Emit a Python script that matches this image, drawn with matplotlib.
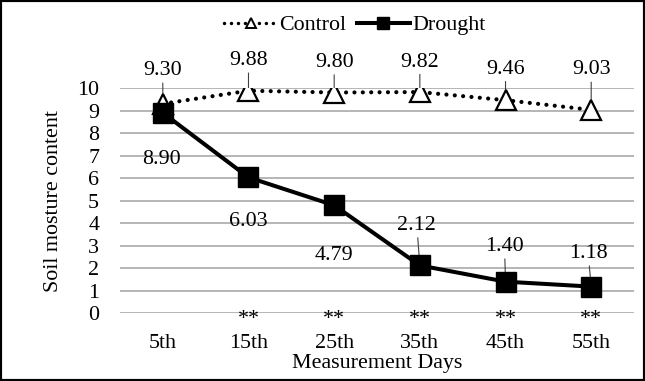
import matplotlib
matplotlib.use("Agg")
import matplotlib.pyplot as plt
from matplotlib.lines import Line2D
from matplotlib.patches import Rectangle

days = ["5th", "15th", "25th", "35th", "45th", "55th"]
control = [9.30, 9.88, 9.80, 9.82, 9.46, 9.03]
drought = [8.90, 6.03, 4.79, 2.12, 1.40, 1.18]
signif = ["", "**", "**", "**", "**", "**"]
yticks = [0, 1, 2, 3, 4, 5, 6, 7, 8, 9, 10]

# label offsets in pixels (dx, dy) and whether a leader line is drawn
ctrl_off = [(0, 33), (0, 30), (0, 30), (0, 30), (0, 31), (0, 40)]
drt_off = [(-1, -47), (0, -44), (0, -50), (-3, 40), (-1, 35), (-3, 33)]
drt_leader = [False, False, False, True, True, True]

plt.rcParams["font.family"] = ["Liberation Serif", "DejaVu Serif"]
fs = 15.8

fig = plt.figure(figsize=(6.45, 3.81), dpi=100)
ax = fig.add_axes([0.186, 0.178, 0.797, 0.591])

x = list(range(len(days)))
ax.plot(x, control, color="black", lw=3, linestyle=(0, (0.01, 2)),
        dash_capstyle="round", marker="^", markersize=14,
        markerfacecolor="white", markeredgecolor="black",
        markeredgewidth=1.6, zorder=3)
ax.plot(x, drought, color="black", lw=2.9, marker="s", markersize=15,
        markerfacecolor="black", markeredgecolor="black", zorder=4)

leader = dict(arrowstyle="-", color="#404040", lw=0.8, shrinkA=0, shrinkB=0)
for i, v in enumerate(control):
    ax.annotate(f"{v:.2f}", xy=(i, v), xytext=ctrl_off[i],
                textcoords="offset pixels", ha="center", va="center",
                fontsize=fs, arrowprops=leader, annotation_clip=False,
                zorder=2)
for i, v in enumerate(drought):
    ax.annotate(f"{v:.2f}", xy=(i, v), xytext=drt_off[i],
                textcoords="offset pixels", ha="center", va="center",
                fontsize=fs, arrowprops=leader if drt_leader[i] else None,
                annotation_clip=False, zorder=2)
for i, s in enumerate(signif):
    if s:
        ax.annotate(s, xy=(i, 0), xytext=(0, -11), textcoords="offset pixels",
                    ha="center", va="baseline", fontsize=fs,
                    annotation_clip=False)

ax.set_xlim(-0.5, len(days) - 0.5)
ax.set_ylim(0, 10)
ax.set_yticks(yticks)
ax.set_xticks(x)
ax.set_xticklabels(days)
ax.tick_params(axis="both", length=0, labelsize=fs)
ax.tick_params(axis="y", pad=15)
ax.tick_params(axis="x", pad=15)
ax.grid(axis="y", color="#b0b0b0", lw=1.3)
ax.set_axisbelow(True)
for sp in ax.spines.values():
    sp.set_visible(False)

ax.set_ylabel("Soil mosture content", fontsize=fs)
ax.yaxis.set_label_coords(-0.13, 0.5)
ax.yaxis.label.set_va("center")
ax.set_xlabel("Measurement Days", fontsize=fs)
ax.xaxis.set_label_coords(0.5, -0.225)
ax.xaxis.label.set_va("center")

handles = [
    Line2D([], [], color="black", lw=2.5, linestyle=(0, (0.01, 2)),
           dash_capstyle="round", marker="^", markersize=7,
           markerfacecolor="white", markeredgecolor="black",
           markeredgewidth=1.4),
    Line2D([], [], color="black", lw=2.9, marker="s", markersize=8,
           markerfacecolor="black"),
]
fig.legend(handles, ["Control", "Drought"], loc="center",
           bbox_to_anchor=(0.55, 0.934), ncol=2, frameon=False,
           fontsize=fs, handlelength=2.4, handletextpad=0.1,
           columnspacing=0.5)

fig.patches.append(Rectangle((0, 0), 1, 1, transform=fig.transFigure,
                             fill=False, edgecolor="black", lw=3))

fig.savefig("out.png", dpi=100)
